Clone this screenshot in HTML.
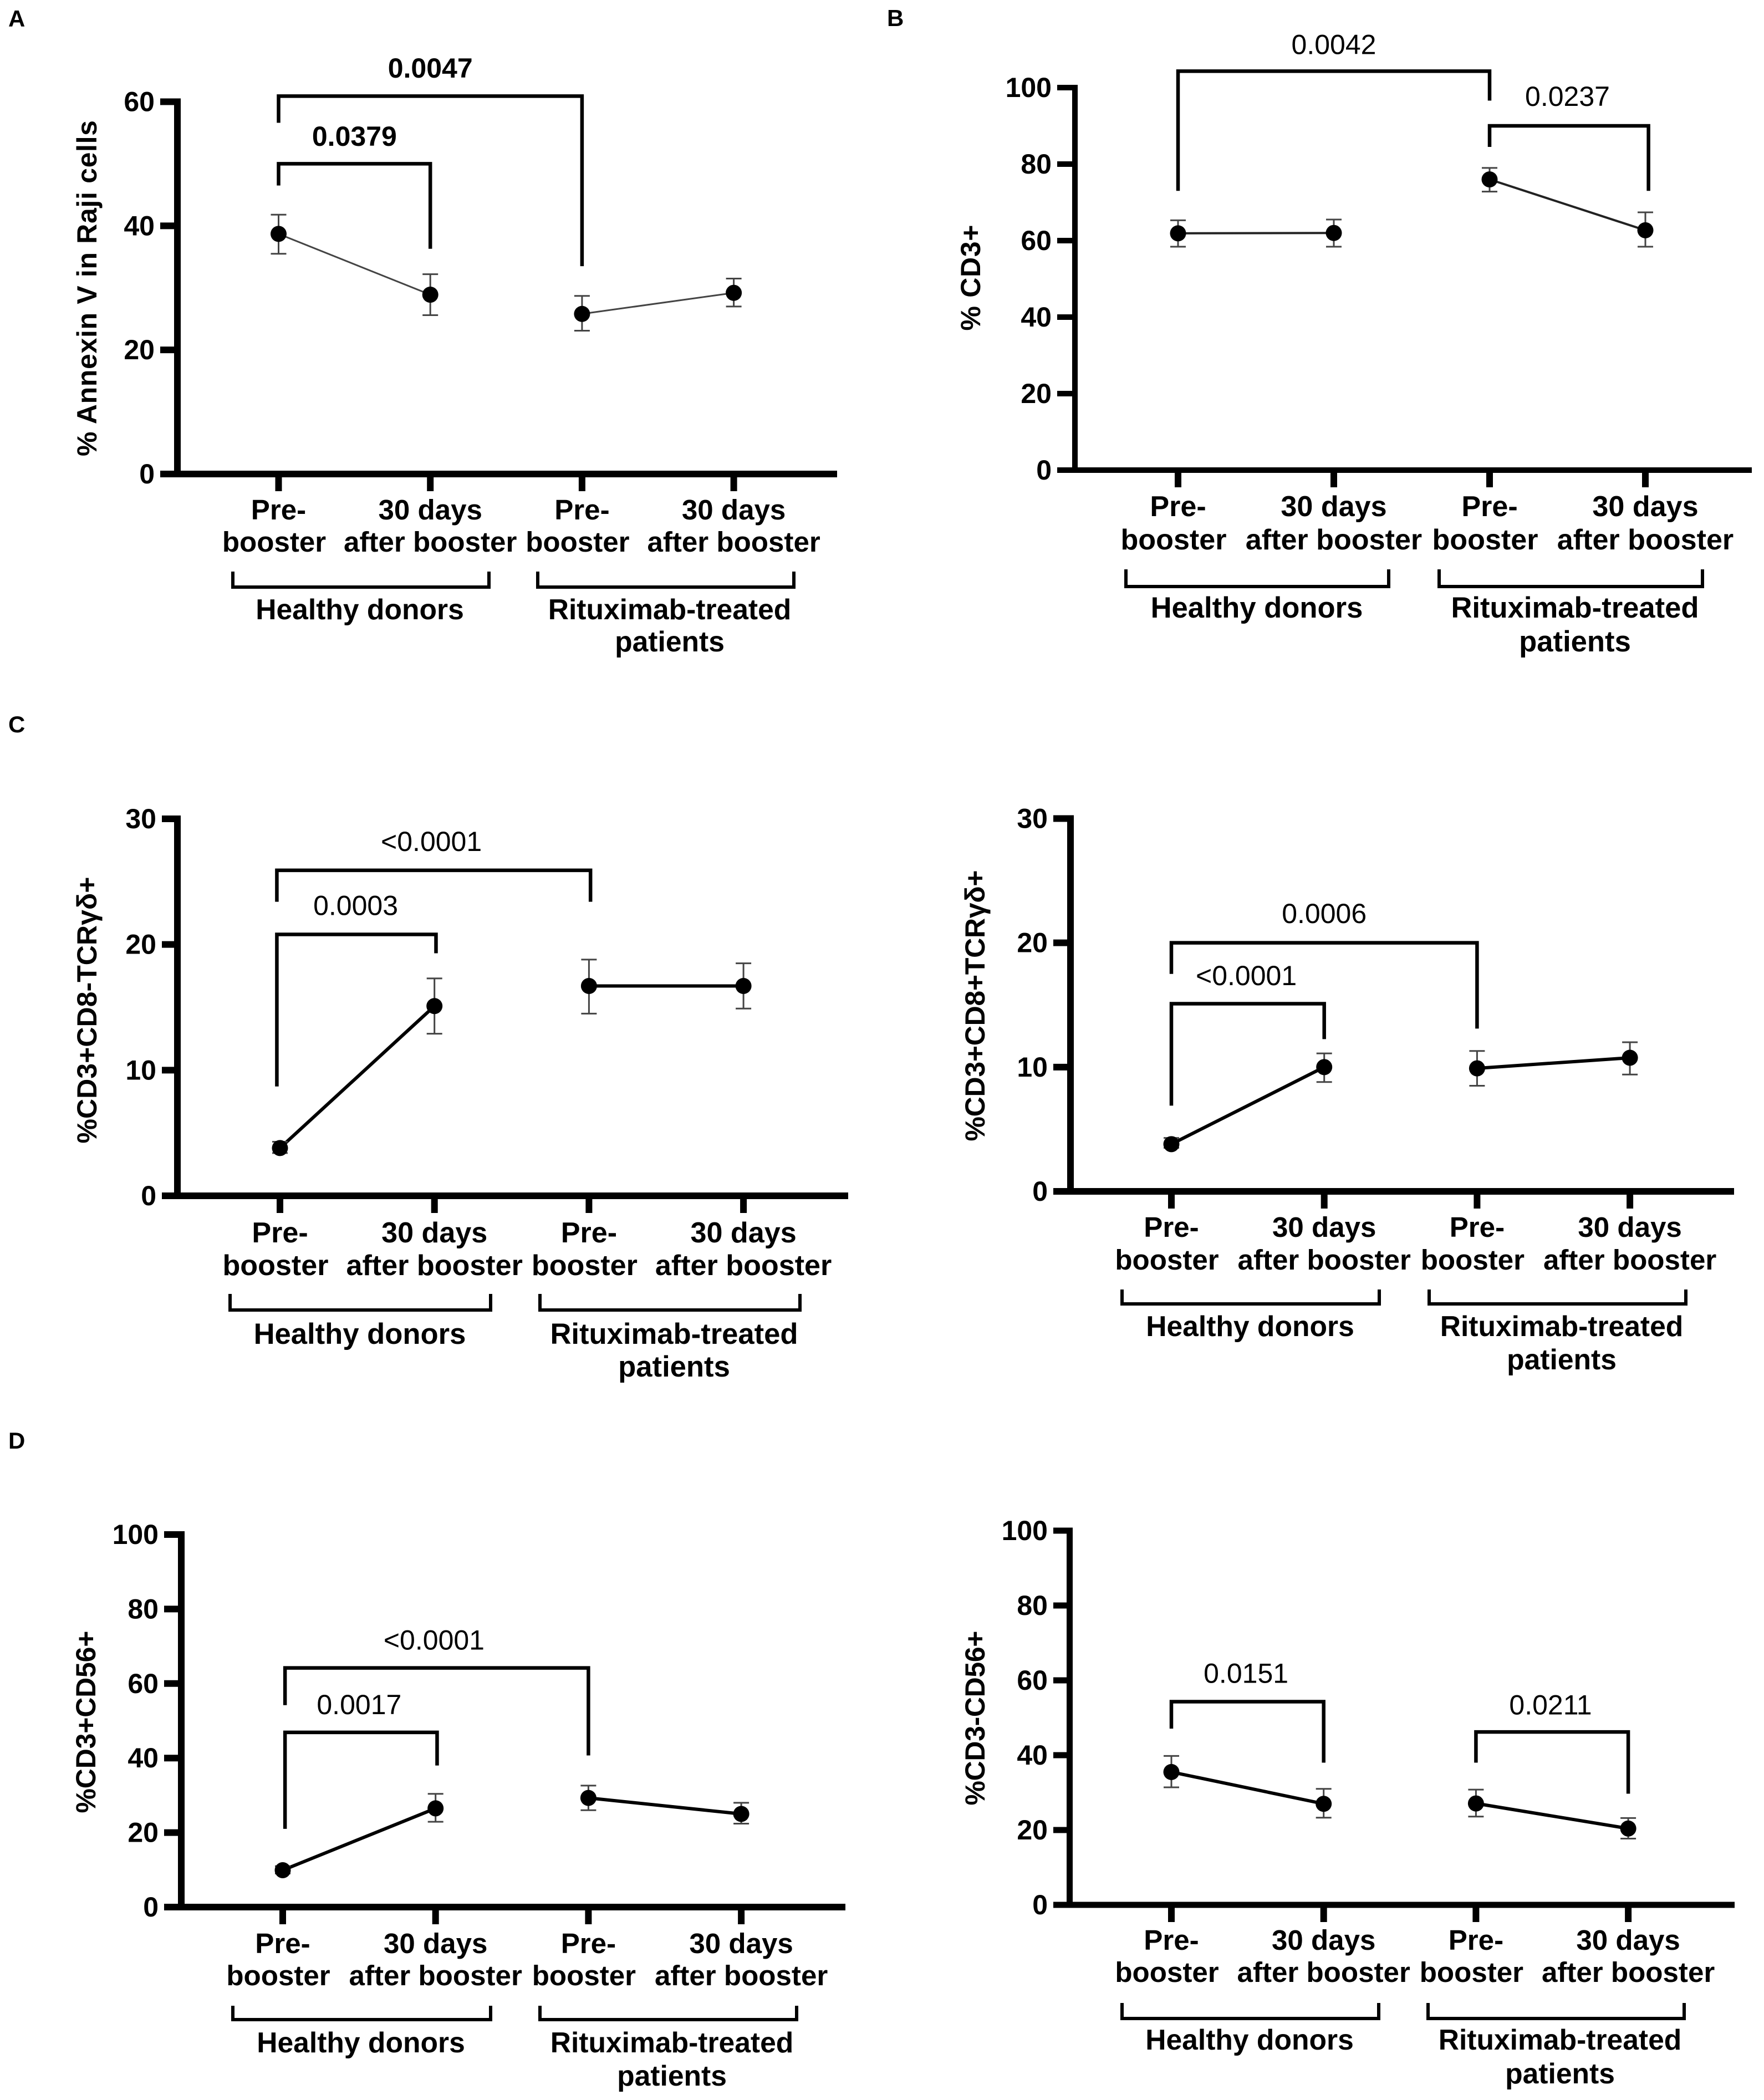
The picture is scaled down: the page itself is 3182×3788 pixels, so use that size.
<!DOCTYPE html>
<html lang="en">
<head>
<meta charset="utf-8">
<title>Annexin V and T-cell subset percentages before and after booster</title>
<style>
html,body{margin:0;padding:0;background:#fff;}
svg{display:block;}
text{font-family:"Liberation Sans",Arial,sans-serif;fill:#000;}
</style>
</head>
<body>
<svg id="figure" xmlns="http://www.w3.org/2000/svg" width="3182" height="3788" viewBox="0 0 3182 3788"></svg>
<script>
const categoryFirstLines = ['Pre-', '30 days', 'Pre-', '30 days'];
const categorySecondLines = ['booster', 'after booster', 'booster', 'after booster'];
const groupOneLabels = ['Healthy donors'];
const groupTwoLabels = ['Rituximab-treated', 'patients'];

const annexinTicks = [0, 20, 40, 60];
const annexinMeans = [38.7, 28.9, 25.8, 29.2];
const annexinUpper = [41.8, 32.2, 28.7, 31.5];
const annexinLower = [35.5, 25.6, 23.1, 27.0];
const annexinBrackets = [
  {from: 0, to: 2, top: 60.9, leftFoot: 56.6, rightFoot: 33.5, labelAt: 1, labelValue: 63.9, text: '0.0047'},
  {from: 0, to: 1, top: 50.0, leftFoot: 46.5, rightFoot: 36.3, labelAt: 0.5, labelValue: 52.9, text: '0.0379'}
];

const cd3Ticks = [0, 20, 40, 60, 80, 100];
const cd3Means = [61.9, 62.0, 76.0, 62.7];
const cd3Upper = [65.3, 65.5, 79.0, 67.4];
const cd3Lower = [58.4, 58.4, 72.8, 58.4];
const cd3Brackets = [
  {from: 0, to: 2, top: 104.3, leftFoot: 73.0, rightFoot: 96.6, labelAt: 1, labelValue: 108.8, text: '0.0042'},
  {from: 2, to: 3.02, top: 90.0, leftFoot: 84.5, rightFoot: 73.0, labelAt: 2.5, labelValue: 95.2, text: '0.0237'}
];

const cd8NegTicks = [0, 10, 20, 30];
const cd8NegMeans = [3.8, 15.1, 16.7, 16.7];
const cd8NegUpper = [4.3, 17.3, 18.8, 18.5];
const cd8NegLower = [3.4, 12.9, 14.5, 14.9];
const cd8NegBrackets = [
  {from: -0.02, to: 2.01, top: 25.9, leftFoot: 23.4, rightFoot: 23.4, labelAt: 0.98, labelValue: 27.45, text: '<0.0001'},
  {from: -0.02, to: 1.01, top: 20.8, leftFoot: 8.7, rightFoot: 19.3, labelAt: 0.49, labelValue: 22.35, text: '0.0003'}
];

const cd8PosTicks = [0, 10, 20, 30];
const cd8PosMeans = [3.8, 10.0, 9.9, 10.75];
const cd8PosUpper = [4.3, 11.1, 11.3, 12.0];
const cd8PosLower = [3.5, 8.8, 8.5, 9.4];
const cd8PosBrackets = [
  {from: 0, to: 2, top: 20.0, leftFoot: 17.5, rightFoot: 13.1, labelAt: 1, labelValue: 21.6, text: '0.0006'},
  {from: 0, to: 1, top: 15.1, leftFoot: 6.9, rightFoot: 12.25, labelAt: 0.49, labelValue: 16.6, text: '<0.0001'}
];

const cd56PosTicks = [0, 20, 40, 60, 80, 100];
const cd56PosMeans = [9.9, 26.5, 29.3, 25.0];
const cd56PosUpper = [11.0, 30.4, 32.6, 28.0];
const cd56PosLower = [9.0, 22.9, 26.0, 22.4];
const cd56PosBrackets = [
  {from: 0.015, to: 2, top: 64.2, leftFoot: 54.2, rightFoot: 40.7, labelAt: 0.99, labelValue: 69.1, text: '<0.0001'},
  {from: 0.015, to: 1.01, top: 46.9, leftFoot: 21.0, rightFoot: 38.0, labelAt: 0.5, labelValue: 51.8, text: '0.0017'}
];

const cd56NegTicks = [0, 20, 40, 60, 80, 100];
const cd56NegMeans = [35.5, 27.0, 27.1, 20.4];
const cd56NegUpper = [39.8, 31.0, 30.8, 23.2];
const cd56NegLower = [31.4, 23.3, 23.6, 17.7];
const cd56NegBrackets = [
  {from: 0, to: 1, top: 54.3, leftFoot: 47.1, rightFoot: 38.0, labelAt: 0.49, labelValue: 59.3, text: '0.0151'},
  {from: 2, to: 3, top: 46.2, leftFoot: 38.0, rightFoot: 29.7, labelAt: 2.49, labelValue: 50.9, text: '0.0211'}
];

const panelLetters = ['A', 'B', 'C', 'D'];

const SVG_NS = 'http://www.w3.org/2000/svg';
const figure = document.getElementById('figure');

function make(parent, tag, attrs, name, content) {
  const node = document.createElementNS(SVG_NS, tag);
  for (const key in attrs) node.setAttribute(key, attrs[key]);
  
  
  if (content !== undefined) node.textContent = content;
  parent.appendChild(node);
  return node;
}

function drawPanel(id, d, lay) {
  const g = make(figure, 'g', {}, id + '-panel');
  const yMax = d.ticks[d.ticks.length - 1];
  const xScale = i => lay.x0 + i * lay.dx;
  const yScale = v => lay.y0 - v * (lay.y0 - lay.yTop) / yMax;
  const axisWidth = lay.axisWidth || 12;
  const catFont = lay.font + 1.1;
  const groupFont = lay.font + 1.6;

  // y axis
  make(g, 'line', {x1: lay.axisX, x2: lay.axisX, y1: lay.yTop - axisWidth / 2, y2: lay.y0 + axisWidth / 2, stroke: '#000', 'stroke-width': axisWidth}, id + '-y-axis');
  d.ticks.forEach(t => {
    make(g, 'line', {x1: lay.tickLeft, x2: lay.axisX, y1: yScale(t), y2: yScale(t), stroke: '#000', 'stroke-width': axisWidth}, id + '-y-tick-' + t);
    make(g, 'text', {x: lay.tickLeft - 10, y: yScale(t) + 17, 'text-anchor': 'end', 'font-size': 50, 'font-weight': 700}, id + '-y-tick-label-' + t, String(t));
  });
  make(g, 'text', {transform: 'translate(' + lay.titleX + ',' + lay.titleY + ') rotate(-90)', 'text-anchor': 'middle', 'font-size': 50, 'font-weight': 700, textLength: lay.titleLen, lengthAdjust: 'spacing'}, id + '-y-axis-title', d.title);

  // x axis
  make(g, 'line', {x1: lay.tickLeft, x2: lay.xRight, y1: lay.y0, y2: lay.y0, stroke: '#000', 'stroke-width': axisWidth}, id + '-x-axis');
  categoryFirstLines.forEach((line, i) => {
    const cx = xScale(i);
    make(g, 'line', {x1: cx, x2: cx, y1: lay.y0, y2: lay.y0 + 31, stroke: '#000', 'stroke-width': 12}, id + '-x-tick-' + i);
    make(g, 'text', {x: cx, y: lay.labelY1, 'text-anchor': 'middle', 'font-size': catFont, 'font-weight': 700}, id + '-category-line1-' + i, line);
    const shift = i % 2 === 0 ? -8 : 0;
    make(g, 'text', {x: cx + shift, y: lay.labelY2, 'text-anchor': 'middle', 'font-size': catFont, 'font-weight': 700}, id + '-category-line2-' + i, categorySecondLines[i]);
  });

  // group brackets
  const groupPath = (l, r) => 'M' + l + ' ' + lay.groupTop + 'V' + lay.groupBottom + 'H' + r + 'V' + lay.groupTop;
  make(g, 'path', {d: groupPath(lay.g1[0], lay.g1[1]), fill: 'none', stroke: '#000', 'stroke-width': 6}, id + '-healthy-group-bracket');
  make(g, 'path', {d: groupPath(lay.g2[0], lay.g2[1]), fill: 'none', stroke: '#000', 'stroke-width': 6}, id + '-rituximab-group-bracket');
  make(g, 'text', {x: lay.g1[2], y: lay.groupY1, 'text-anchor': 'middle', 'font-size': groupFont, 'font-weight': 700}, id + '-healthy-group-label', groupOneLabels[0]);
  make(g, 'text', {x: lay.g2[2], y: lay.groupY1, 'text-anchor': 'middle', 'font-size': groupFont, 'font-weight': 700}, id + '-rituximab-group-label-line1', groupTwoLabels[0]);
  make(g, 'text', {x: lay.g2[2], y: lay.groupY2, 'text-anchor': 'middle', 'font-size': groupFont, 'font-weight': 700}, id + '-rituximab-group-label-line2', groupTwoLabels[1]);

  // significance brackets
  d.brackets.forEach((b, i) => {
    const path = 'M' + xScale(b.from) + ' ' + yScale(b.leftFoot) + 'V' + yScale(b.top) + 'H' + xScale(b.to) + 'V' + yScale(b.rightFoot);
    make(g, 'path', {d: path, fill: 'none', stroke: '#000', 'stroke-width': 6.5}, id + '-significance-bracket-' + i);
    make(g, 'text', {x: xScale(b.labelAt), y: yScale(b.labelValue), 'text-anchor': 'middle', 'font-size': 50, 'font-weight': d.boldP ? 700 : 400}, id + '-p-value-' + i, b.text);
  });

  // series (two connected pairs)
  [[0, 1], [2, 3]].forEach((pair, s) => {
    make(g, 'line', {x1: xScale(pair[0]), y1: yScale(d.means[pair[0]]), x2: xScale(pair[1]), y2: yScale(d.means[pair[1]]), stroke: lay.lineColor, 'stroke-width': lay.lineWidth}, id + '-series-line-' + s);
  });
  d.means.forEach((m, i) => {
    const cx = xScale(i);
    const up = yScale(d.upper[i]);
    const lo = yScale(d.lower[i]);
    make(g, 'line', {x1: cx, x2: cx, y1: up, y2: lo, stroke: '#444', 'stroke-width': 3}, id + '-error-bar-' + i);
    make(g, 'line', {x1: cx - 14, x2: cx + 14, y1: up, y2: up, stroke: '#444', 'stroke-width': 3}, id + '-error-cap-upper-' + i);
    make(g, 'line', {x1: cx - 14, x2: cx + 14, y1: lo, y2: lo, stroke: '#444', 'stroke-width': 3}, id + '-error-cap-lower-' + i);
    make(g, 'circle', {cx: cx, cy: yScale(m), r: 14.5, fill: '#000'}, id + '-point-' + i);
  });
}

drawPanel('annexin',
  {ticks: annexinTicks, means: annexinMeans, upper: annexinUpper, lower: annexinLower, brackets: annexinBrackets, title: '% Annexin V in Raji cells', boldP: true},
  {axisX: 320, y0: 855, yTop: 183.5, tickLeft: 289, x0: 502.5, dx: 273.7, xRight: 1510, font: 50, labelY1: 937, labelY2: 995, groupTop: 1031, groupBottom: 1059, g1: [420, 882, 649], g2: [970, 1432, 1208], groupY1: 1117, groupY2: 1175, titleX: 174, titleY: 520, titleLen: 606, lineColor: '#444', lineWidth: 3});

drawPanel('cd3',
  {ticks: cd3Ticks, means: cd3Means, upper: cd3Upper, lower: cd3Lower, brackets: cd3Brackets, title: '%  CD3+', boldP: false},
  {axisX: 1939, y0: 848, yTop: 158, tickLeft: 1907, axisWidth: 10, x0: 2125, dx: 281, xRight: 3160, font: 51, labelY1: 931, labelY2: 991, groupTop: 1027, groupBottom: 1058, g1: [2031, 2505, 2267], g2: [2596, 3071, 2841], groupY1: 1114, groupY2: 1175, titleX: 1768, titleY: 501, titleLen: 191, lineColor: '#222', lineWidth: 4});

drawPanel('cd8-negative',
  {ticks: cd8NegTicks, means: cd8NegMeans, upper: cd8NegUpper, lower: cd8NegLower, brackets: cd8NegBrackets, title: '%CD3+CD8-TCRγδ+', boldP: false},
  {axisX: 320, y0: 2157, yTop: 1477, tickLeft: 292, x0: 505, dx: 278.7, xRight: 1530, font: 51, labelY1: 2241, labelY2: 2300, groupTop: 2334, groupBottom: 2363, g1: [415, 885, 649], g2: [974, 1443, 1216], groupY1: 2424, groupY2: 2483, titleX: 174, titleY: 1822, titleLen: 481, lineColor: '#000', lineWidth: 6});

drawPanel('cd8-positive',
  {ticks: cd8PosTicks, means: cd8PosMeans, upper: cd8PosUpper, lower: cd8PosLower, brackets: cd8PosBrackets, title: '%CD3+CD8+TCRγδ+', boldP: false},
  {axisX: 1931, y0: 2149, yTop: 1476.5, tickLeft: 1900, x0: 2113, dx: 275.7, xRight: 3128, font: 50, labelY1: 2231, labelY2: 2290, groupTop: 2326, groupBottom: 2352, g1: [2024, 2488, 2255], g2: [2578, 3041, 2817], groupY1: 2410, groupY2: 2470, titleX: 1776, titleY: 1814, titleLen: 489, lineColor: '#000', lineWidth: 6});

drawPanel('cd56-positive',
  {ticks: cd56PosTicks, means: cd56PosMeans, upper: cd56PosUpper, lower: cd56PosLower, brackets: cd56PosBrackets, title: '%CD3+CD56+', boldP: false},
  {axisX: 327, y0: 3440, yTop: 2768, tickLeft: 296, x0: 510, dx: 275.7, xRight: 1525, font: 50, labelY1: 3523, labelY2: 3581, groupTop: 3618, groupBottom: 3643, g1: [420, 885, 651], g2: [974, 1437, 1212], groupY1: 3702, groupY2: 3762, titleX: 172, titleY: 3106, titleLen: 329, lineColor: '#000', lineWidth: 6});

drawPanel('cd56-negative',
  {ticks: cd56NegTicks, means: cd56NegMeans, upper: cd56NegUpper, lower: cd56NegLower, brackets: cd56NegBrackets, title: '%CD3-CD56+', boldP: false},
  {axisX: 1929.5, y0: 3436, yTop: 2761, tickLeft: 1900, axisWidth: 11, x0: 2113, dx: 274.7, xRight: 3129, font: 50, labelY1: 3517, labelY2: 3575, groupTop: 3613, groupBottom: 3641, g1: [2024, 2487, 2254], g2: [2576, 3038, 2814], groupY1: 3697, groupY2: 3758, titleX: 1776, titleY: 3099, titleLen: 315, lineColor: '#000', lineWidth: 6});

panelLetters.forEach((letter, i) => {
  const spots = [[15, 48], [1600, 47], [15, 1321], [15, 2613]];
  make(figure, 'text', {x: spots[i][0], y: spots[i][1], 'font-size': 42, 'font-weight': 700}, 'panel-letter-' + letter.toLowerCase(), letter);
});
</script>
</body>
</html>
